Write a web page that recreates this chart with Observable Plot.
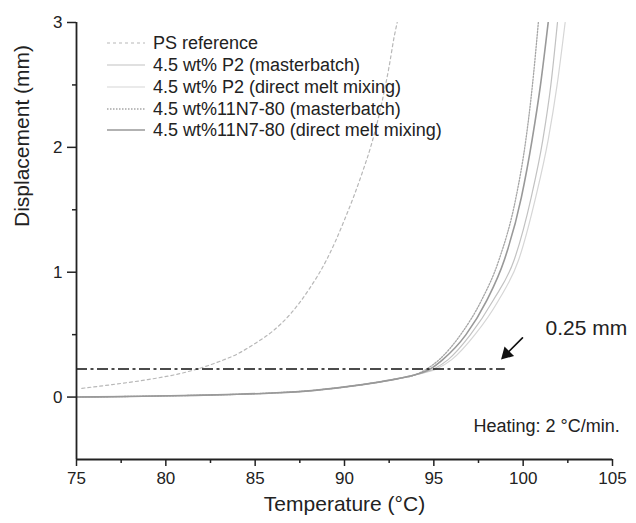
<!DOCTYPE html>
<html>
<head>
<meta charset="utf-8">
<script src="https://cdn.jsdelivr.net/npm/d3@7"></script>
<script src="https://cdn.jsdelivr.net/npm/@observablehq/plot@0.6"></script>
<style>
  html, body { margin: 0; padding: 0; background: #fff; }
  #wrap { position: relative; width: 636px; height: 523px; overflow: hidden; font-family: "Liberation Sans", Arial, sans-serif; }
  #legend { position: absolute; left: 0; top: 0; pointer-events: none; }
  .row { position: absolute; left: 107px; height: 20px; display: flex; align-items: center; white-space: nowrap; font-size: 18px; color: #222; }
  .row svg { margin-right: 8px; }
</style>
</head>
<body>
<div id="wrap"><div id="chart"></div><div id="legend"></div></div>
<script>
// ---- data ----
const seriesNames = [
  "PS reference",
  "4.5 wt% P2 (masterbatch)",
  "4.5 wt% P2 (direct melt mixing)",
  "4.5 wt%11N7-80 (masterbatch)",
  "4.5 wt%11N7-80 (direct melt mixing)"
];
// PS reference
const psTemp = [75.3, 77, 79, 81, 82, 83, 84, 85, 86, 87, 88, 89, 89.5, 90, 90.5, 91, 91.5, 92, 92.5, 92.8, 92.95];
const psDisp = [0.07, 0.1, 0.14, 0.195, 0.235, 0.285, 0.345, 0.43, 0.53, 0.67, 0.86, 1.1, 1.25, 1.42, 1.6, 1.8, 2.02, 2.3, 2.65, 2.9, 3.0];
// common low-temperature part of the four composites
const baseTemp = [75, 78, 81, 84, 86, 88, 89.5, 91, 92, 93, 94];
const baseDisp = [0, 0.005, 0.012, 0.022, 0.033, 0.05, 0.072, 0.1, 0.122, 0.148, 0.18];
// steep part: displacement levels and the temperature of each curve there
const steepDisp = [0.225, 0.3, 0.5, 0.77, 1.1, 1.6, 2.06, 2.5, 3.0];
const p2MbTemp  = [95.0, 95.8, 97.05, 98.3, 99.5, 100.45, 101.1, 101.55, 101.92];
const p2DmTemp  = [95.15, 96.0, 97.3, 98.6, 99.75, 100.7, 101.4, 101.9, 102.35];
const n7MbTemp  = [94.6, 95.3, 96.5, 97.65, 98.65, 99.6, 100.15, 100.52, 100.85];
const n7DmTemp  = [94.8, 95.5, 96.8, 97.95, 98.95, 99.9, 100.5, 100.97, 101.4];
// annotations
const thresholdDisp = [0.225];
const thresholdEnd = 99;
const arrowTail = [99.96, 0.474];
const arrowTip = [98.9, 0.321];
const noteLabel = "0.25 mm";
const notePos = [101.25, 0.555];
const heatingLabel = "Heating: 2 °C/min.";
const heatingPos = [105.4, -0.233];
const xMajor = [75, 80, 85, 90, 95, 100, 105];
const xMinor = [77.5, 82.5, 87.5, 92.5, 97.5, 102.5];
const yMajor = [0, 1, 2, 3];
const yMinor = [0.5, 1.5, 2.5];
const xTitle = "Temperature (°C)";
const yTitle = "Displacement (mm)";

// ---- styles ----
const styles = [
  {stroke: "#b8b8b8", strokeDasharray: "3,3", strokeWidth: 1.2},
  {stroke: "#c2c2c2", strokeWidth: 1.2},
  {stroke: "#d6d6d6", strokeWidth: 1.2},
  {stroke: "#a6a6a6", strokeDasharray: "1.5,1.5", strokeWidth: 1.3},
  {stroke: "#999999", strokeWidth: 1.6}
];

function composite(steepTemp) {
  return baseTemp.map((t, i) => ({t, d: baseDisp[i]}))
    .concat(steepTemp.map((t, i) => ({t, d: steepDisp[i]})));
}
const seriesData = [
  psTemp.map((t, i) => ({t, d: psDisp[i]})),
  composite(p2MbTemp),
  composite(p2DmTemp),
  composite(n7MbTemp),
  composite(n7DmTemp)
];

const ink = "#222";
const drawOrder = [0, 2, 1, 3, 4];
const lineMarks = drawOrder.map(i => Plot.line(seriesData[i], {x: "t", y: "d", curve: "monotone-x", clip: true, ...styles[i]}));

const chart = Plot.plot({
  width: 636,
  height: 523,
  marginLeft: 76,
  marginRight: 24,
  marginTop: 22,
  marginBottom: 64,
  style: {fontFamily: "'Liberation Sans', Arial, sans-serif", color: ink, background: "#fff", overflow: "visible"},
  x: {domain: [75, 105]},
  y: {domain: [-0.5, 3]},
  marks: [
    ...lineMarks,
    Plot.ruleY(thresholdDisp, {x1: 75, x2: thresholdEnd, stroke: "#111", strokeWidth: 1.6, strokeDasharray: "11,3.5,3,3.5"}),
    Plot.arrow([0], {x1: () => arrowTail[0], y1: () => arrowTail[1], x2: () => arrowTip[0], y2: () => arrowTip[1], stroke: "#111", strokeWidth: 1.6, headLength: 0}),
    Plot.dot([0], {x: () => arrowTip[0] + 0.17, y: () => arrowTip[1] + 0.024, symbol: "triangle", r: 5, rotate: 225, fill: "#111", stroke: "none"}),
    Plot.text([noteLabel], {x: () => notePos[0], y: () => notePos[1], text: d => d, textAnchor: "start", fontSize: 21, fill: ink}),
    Plot.text([heatingLabel], {x: () => heatingPos[0], y: () => heatingPos[1], text: d => d, textAnchor: "end", fontSize: 18, fill: ink}),
    Plot.ruleX([75], {stroke: ink, strokeWidth: 1.8}),
    Plot.ruleY([-0.5], {stroke: ink, strokeWidth: 1.8}),
    Plot.axisX({ticks: xMajor, tickSize: 7, tickPadding: 5, fontSize: 17, tickFormat: d3.format("d"), label: null, stroke: ink, strokeWidth: 1.5, fill: ink}),
    Plot.axisX({ticks: xMinor, tickSize: 4, tickFormat: () => "", label: null, stroke: ink, strokeWidth: 1.5}),
    Plot.axisY({ticks: yMajor, tickSize: 9, tickPadding: 5, fontSize: 17, tickFormat: d3.format("d"), label: null, stroke: ink, strokeWidth: 1.5, fill: ink}),
    Plot.axisY({ticks: yMinor, tickSize: 4, tickFormat: () => "", label: null, stroke: ink, strokeWidth: 1.5}),
    Plot.text([xTitle], {frameAnchor: "bottom", dy: 51, text: d => d, fontSize: 21, fill: ink}),
    Plot.text([yTitle], {frameAnchor: "left", dx: -54, dy: -14, rotate: -90, text: d => d, fontSize: 21, fill: ink})
  ]
});
document.getElementById("chart").appendChild(chart);

// ---- legend (overlay inside the plot area, as in the reference) ----
const legend = document.getElementById("legend");
const rowCenters = [43, 65, 87, 109, 130];
seriesNames.forEach((name, i) => {
  const row = document.createElement("div");
  row.className = "row";
  row.style.top = (rowCenters[i] - 10) + "px";
  const s = styles[i];
  row.innerHTML = `<svg width="38" height="20"><line x1="0" x2="38" y1="10" y2="10" stroke="${s.stroke}" stroke-width="${s.strokeWidth}" ${s.strokeDasharray ? `stroke-dasharray="${s.strokeDasharray}"` : ""}/></svg><span>${name}</span>`;
  legend.appendChild(row);
});
</script>
</body>
</html>
